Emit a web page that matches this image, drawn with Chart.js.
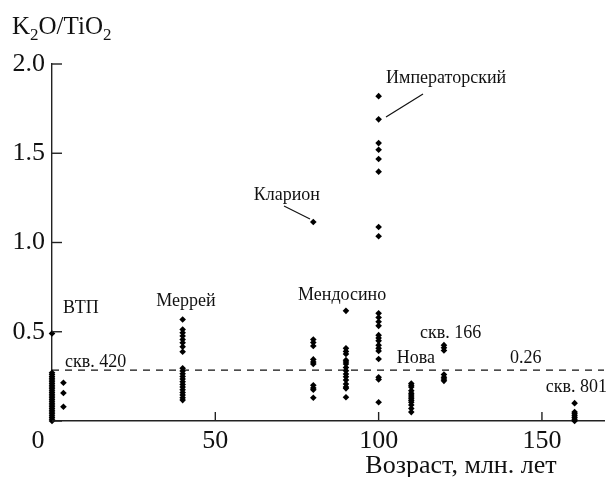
<!DOCTYPE html>
<html><head><meta charset="utf-8">
<script src="https://cdn.jsdelivr.net/npm/chart.js@4.4.0/dist/chart.umd.min.js"></script>
<style>html,body{margin:0;padding:0;background:#fff}#wrap{width:608px;height:477px}</style>
</head><body><div id="wrap"><canvas id="c" width="608" height="477"></canvas></div>
<script>
// Data: age (Ma) and K2O/TiO2 values per group
const ageVTP = 0;
const kVTP = [0.00,0.01,0.02,0.03,0.04,0.05,0.06,0.07,0.08,0.09,0.10,0.11,0.12,0.13,0.14,0.15,0.16,0.17,0.18,0.19,0.20,0.21,0.22,0.23,0.24,0.25,0.26,0.27,0.49];
const ageVTP2 = 3.5;
const kVTP2 = [0.214,0.157,0.08];
const ageMurray = 40;
const kMurray = [0.569,0.513,0.494,0.476,0.457,0.438,0.416,0.388,0.295,0.28,0.265,0.25,0.235,0.22,0.205,0.19,0.175,0.16,0.145,0.13,0.117];
const ageClarion = 80;
const kClarion = [1.115];
const ageMend80 = 80;
const kMend80 = [0.457,0.44,0.42,0.345,0.33,0.32,0.2,0.185,0.175,0.13];
const ageMend90 = 90;
const kMend90 = [0.617,0.407,0.39,0.375,0.341,0.33,0.319,0.3,0.282,0.263,0.248,0.229,0.207,0.19,0.183,0.133];
const ageEmperor = 100;
const kEmperor = [1.82,1.69,1.557,1.52,1.468,1.397,1.087,1.035,0.603,0.58,0.556,0.533,0.481,0.465,0.449,0.425,0.407,0.392,0.347,0.245,0.233,0.105];
const ageNova = 110;
const kNova = [0.21,0.2,0.19,0.17,0.155,0.145,0.135,0.125,0.115,0.105,0.09,0.07,0.05];
const age166 = 120;
const k166 = [0.425,0.41,0.395,0.26,0.245,0.235,0.225];
const age801 = 160;
const k801 = [0.1,0.05,0.04,0.03,0.02,0.01,0.0];
const threshold = 0.285;   // dashed line labelled 0.26
const xTicks = [0,50,100,150];
const yTicks = [0,0.5,1.0,1.5,2.0];
const xMin = 0, xMax = 169, yMin = 0, yMax = 2;

const groups = [
  [ageVTP,kVTP],[ageVTP2,kVTP2],[ageMurray,kMurray],[ageClarion,kClarion],
  [ageMend80,kMend80],[ageMend90,kMend90],[ageEmperor,kEmperor],[ageNova,kNova],
  [age166,k166],[age801,k801]
];
const pts = (a,arr)=>arr.map(v=>({x:a,y:v}));
const datasets = groups.map(g=>({
  type:'scatter', data:pts(g[0],g[1]), pointStyle:'rectRot', pointRadius:3.3,
  backgroundColor:'#000', borderWidth:0, clip:false
}));
datasets.push({
  type:'line', data:[{x:xMin,y:threshold},{x:xMax,y:threshold}],
  borderColor:'#111', borderWidth:1.2, borderDash:[7,6], pointRadius:0, fill:false, clip:false
});

const SERIF = '"Liberation Serif","DejaVu Serif",serif';
const notes = [
  {t:'ВТП', x:63, y:313, a:'left'},
  {t:'скв. 420', x:65, y:367, a:'left'},
  {t:'Меррей', x:186, y:306, a:'center'},
  {t:'Кларион', x:320, y:200, a:'right'},
  {t:'Императорский', x:386, y:83, a:'left'},
  {t:'Мендосино', x:298, y:300, a:'left'},
  {t:'Нова', x:435, y:363, a:'right'},
  {t:'скв. 166', x:420, y:338, a:'left'},
  {t:'0.26', x:510, y:363, a:'left'},
  {t:'скв. 801', x:607, y:392, a:'right'}
];
const leaders = [[284,206,310,219],[423,94,386,117]];

const deco = {
  id:'deco',
  afterDraw(chart){
    const ctx = chart.ctx, xs = chart.scales.x, ys = chart.scales.y;
    ctx.save();
    ctx.strokeStyle = '#222'; ctx.lineWidth = 1.4;
    const x0 = xs.getPixelForValue(xMin), y0 = ys.getPixelForValue(yMin);
    yTicks.forEach(v=>{ const p = ys.getPixelForValue(v);
      ctx.beginPath(); ctx.moveTo(x0,p); ctx.lineTo(x0+10,p); ctx.stroke(); });
    xTicks.forEach(v=>{ if(v===0) return; const p = xs.getPixelForValue(v);
      ctx.beginPath(); ctx.moveTo(p,y0); ctx.lineTo(p,y0-9); ctx.stroke(); });
    ctx.fillStyle = '#111';
    ctx.font = '26px ' + SERIF; ctx.textAlign='center'; ctx.textBaseline='alphabetic';
    ctx.fillText('0', x0-14, y0+27);
    ctx.fillText('Возраст, млн. лет', 461, 473);
    // y-axis title K2O/TiO2
    ctx.textAlign='left';
    let x = 12; const by = 34;
    const big = '25px ' + SERIF, small = '17px ' + SERIF;
    const parts = [['K',big,0],['2',small,6],['O/TiO',big,0],['2',small,6]];
    parts.forEach(p=>{ ctx.font=p[1]; ctx.fillText(p[0], x, by+p[2]); x += ctx.measureText(p[0]).width; });
    ctx.font = '18px ' + SERIF;
    notes.forEach(n=>{ ctx.textAlign=n.a; ctx.fillText(n.t, n.x, n.y); });
    ctx.lineWidth = 1.2; ctx.strokeStyle='#111';
    leaders.forEach(l=>{ ctx.beginPath(); ctx.moveTo(l[0],l[1]); ctx.lineTo(l[2],l[3]); ctx.stroke(); });
    ctx.restore();
  }
};

new Chart(document.getElementById('c'), {
  data:{datasets},
  options:{
    responsive:false, animation:false, maintainAspectRatio:false,
    layout:{padding:{top:64,right:0,left:0,bottom:0}},
    plugins:{legend:{display:false}, tooltip:{enabled:false}},
    scales:{
      x:{type:'linear', min:xMin, max:xMax,
        afterBuildTicks:s=>{ s.ticks = xTicks.map(v=>({value:v})); },
        afterFit:s=>{ s.height = 56; },
        grid:{display:false, drawTicks:false},
        border:{display:true, color:'#222', width:1.4},
        ticks:{color:'#111', padding:5, maxRotation:0, font:{family:SERIF, size:26},
          callback:v=> v===0 ? '' : String(v)}
      },
      y:{type:'linear', min:yMin, max:yMax,
        afterBuildTicks:s=>{ s.ticks = yTicks.map(v=>({value:v})); },
        afterFit:s=>{ s.width = 52; },
        grid:{display:false, drawTicks:false},
        border:{display:true, color:'#222', width:1.4},
        ticks:{color:'#111', padding:7, font:{family:SERIF, size:26},
          callback:v=> v===0 ? '' : Number(v).toFixed(1)}
      }
    }
  },
  plugins:[deco]
});
</script></body></html>
